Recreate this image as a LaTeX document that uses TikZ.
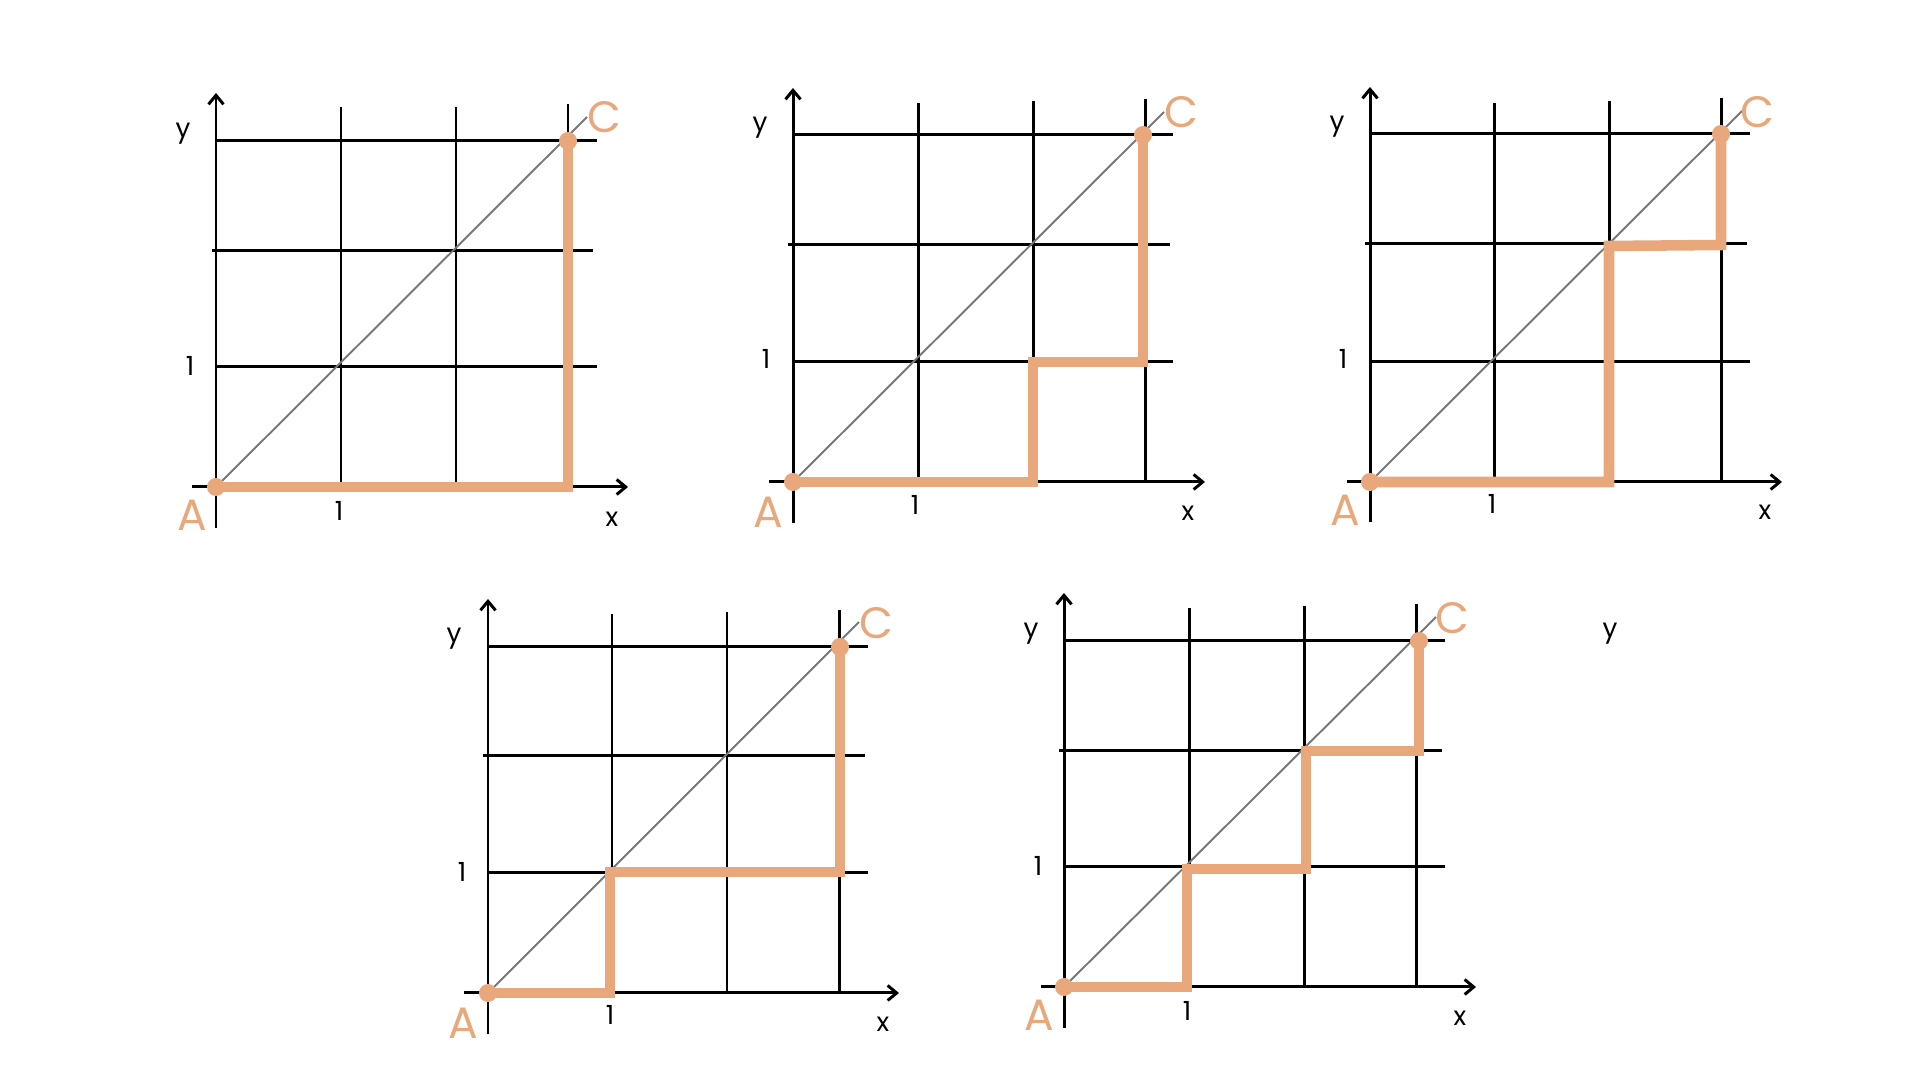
\documentclass[tikz,border=0pt]{standalone}
\usepackage{fontspec}
\setmainfont{Poppins}
\usepackage{xcolor}
\usetikzlibrary{arrows.meta}
\definecolor{routeorange}{HTML}{E8A87C}
\definecolor{diaggray}{HTML}{777777}

\begin{document}
\begin{tikzpicture}[
    x=0.01cm, y=-0.01cm,
    gridline/.style={
        line width=0.85pt
    },
    axis/.style={
        line width=0.85pt,
        -{Straight Barb[length=0.9mm,width=1.5mm]}
    },
    diag/.style={
        diaggray,
        line width=0.55pt
    },
    route/.style={
        routeorange,
        line width=3pt,
        line join=miter
    },
    dot/.style={
        circle,
        fill=routeorange,
        inner sep=0pt,
        minimum size=1.8mm
    },
    lbl/.style={
        font=\fontsize{7.5}{9}\selectfont
    },
    pointlbl/.style={
        text=routeorange,
        font=\fontsize{12.5}{14}\selectfont
    }
]
\useasboundingbox (0,0) rectangle (1920,1080);

% Panel 1: along the x-axis, then straight up
\draw[gridline] (216,141) -- (597,141);
\draw[gridline] (212,251) -- (593,251);
\draw[gridline] (216,367) -- (597,367);
\draw[gridline] (341,107) -- (341,487);
\draw[gridline] (456,107) -- (456,487);
\draw[gridline] (568,104) -- (568,487);
\draw[axis] (216,528) -- (216,93);
\draw[axis] (192,487) -- (628,487);

\coordinate (A1) at (216,487);
\coordinate (P1) at (568,487);
\coordinate (C1) at (568,141);
\coordinate (D1) at (587,117);
\draw[diag] (A1) -- (D1);
\draw[route] (A1) -- (P1) -- (C1);
\node[dot] (a1) at (A1) {};
\node[dot] (c1) at (C1) {};

\node[lbl] (y1) at (183,134) {y};
\node[lbl] (oney1) at (190,366) {1};
\node[lbl] (onex1) at (339,511) {1};
\node[lbl] (x1) at (612,519) {x};
\node[pointlbl] (lA1) at (192,515) {A};
\node[pointlbl] (lC1) at (604,117) {C};

% Panel 2: two cells right, one up, one right, two up
\draw[gridline] (793,135) -- (1173,135);
\draw[gridline] (788,245) -- (1170,245);
\draw[gridline] (793,362) -- (1173,362);
\draw[gridline] (918,103) -- (918,482);
\draw[gridline] (1033,101) -- (1033,482);
\draw[gridline] (1145,99) -- (1145,482);
\draw[axis] (793,523) -- (793,88);
\draw[axis] (769,482) -- (1205,482);

\coordinate (A2) at (793,482);
\coordinate (P2a) at (1033,482);
\coordinate (P2b) at (1033,362);
\coordinate (P2c) at (1143,362);
\coordinate (C2) at (1143,135);
\coordinate (D2) at (1164,112);
\draw[diag] (A2) -- (D2);
\draw[route] (A2) -- (P2a) -- (P2b) -- (P2c) -- (C2);
\node[dot] (a2) at (A2) {};
\node[dot] (c2) at (C2) {};

\node[lbl] (y2) at (760,128) {y};
\node[lbl] (oney2) at (766,359) {1};
\node[lbl] (onex2) at (915,505) {1};
\node[lbl] (x2) at (1188,513) {x};
\node[pointlbl] (lA2) at (768,512) {A};
\node[pointlbl] (lC2) at (1181,112) {C};

% Panel 3: two cells right, two up, one right, one up
\draw[gridline] (1370,134) -- (1750,134);
\draw[gridline] (1365,244) -- (1747,244);
\draw[gridline] (1370,362) -- (1750,362);
\draw[gridline] (1494,103) -- (1494,482);
\draw[gridline] (1609,101) -- (1609,482);
\draw[gridline] (1721,98) -- (1721,482);
\draw[axis] (1370,522) -- (1370,87);
\draw[axis] (1347,482) -- (1782,482);

\coordinate (A3) at (1370,482);
\coordinate (P3a) at (1609,482);
\coordinate (P3b) at (1609,246);
\coordinate (P3c) at (1721,245);
\coordinate (C3) at (1721,134);
\coordinate (D3) at (1742,111);
\draw[diag] (A3) -- (D3);
\draw[route] (A3) -- (P3a) -- (P3b) -- (P3c) -- (C3);
\node[dot] (a3) at (A3) {};
\node[dot] (c3) at (C3) {};

\node[lbl] (y3) at (1337,127) {y};
\node[lbl] (oney3) at (1343,359) {1};
\node[lbl] (onex3) at (1492,504) {1};
\node[lbl] (x3) at (1765,512) {x};
\node[pointlbl] (lA3) at (1345,510) {A};
\node[pointlbl] (lC3) at (1757,112) {C};

% Panel 4: one cell right, one up, two right, two up
\draw[gridline] (488,647) -- (868,647);
\draw[gridline] (483,756) -- (865,756);
\draw[gridline] (488,873) -- (868,873);
\draw[gridline] (612,614) -- (612,993);
\draw[gridline] (727,612) -- (727,993);
\draw[gridline] (839,610) -- (839,993);
\draw[axis] (488,1034) -- (488,599);
\draw[axis] (464,993) -- (899,993);

\coordinate (A4) at (488,993);
\coordinate (P4a) at (610,993);
\coordinate (P4b) at (610,872);
\coordinate (P4c) at (840,872);
\coordinate (C4) at (840,647);
\coordinate (D4) at (859,622);
\draw[diag] (A4) -- (D4);
\draw[route] (A4) -- (P4a) -- (P4b) -- (P4c) -- (C4);
\node[dot] (a4) at (A4) {};
\node[dot] (c4) at (C4) {};

\node[lbl] (y4) at (454,639) {y};
\node[lbl] (oney4) at (462,872) {1};
\node[lbl] (onex4) at (610,1015) {1};
\node[lbl] (x4) at (883,1024) {x};
\node[pointlbl] (lA4) at (463,1023) {A};
\node[pointlbl] (lC4) at (876,623) {C};

% Panel 5: staircase, one cell at a time
\draw[gridline] (1065,641) -- (1445,641);
\draw[gridline] (1059,751) -- (1442,751);
\draw[gridline] (1065,867) -- (1445,867);
\draw[gridline] (1189,608) -- (1189,987);
\draw[gridline] (1304,606) -- (1304,987);
\draw[gridline] (1416,604) -- (1416,987);
\draw[axis] (1064,1028) -- (1064,593);
\draw[axis] (1041,987) -- (1476,987);

\coordinate (A5) at (1064,987);
\coordinate (P5a) at (1187,987);
\coordinate (P5b) at (1187,869);
\coordinate (P5c) at (1306,869);
\coordinate (P5d) at (1306,751);
\coordinate (P5e) at (1419,751);
\coordinate (C5) at (1419,641);
\coordinate (D5) at (1436,617);
\draw[diag] (A5) -- (D5);
\draw[route] (A5) -- (P5a) -- (P5b) -- (P5c) -- (P5d) -- (P5e) -- (C5);
\node[dot] (a5) at (A5) {};
\node[dot] (c5) at (C5) {};

\node[lbl] (y5) at (1031,634) {y};
\node[lbl] (oney5) at (1038,866) {1};
\node[lbl] (onex5) at (1187,1011) {1};
\node[lbl] (x5) at (1460,1018) {x};
\node[pointlbl] (lA5) at (1039,1015) {A};
\node[pointlbl] (lC5) at (1452,618) {C};

% stray label right of panel 5
\node[lbl] (ystray) at (1610,634) {y};

\end{tikzpicture}
\end{document}
